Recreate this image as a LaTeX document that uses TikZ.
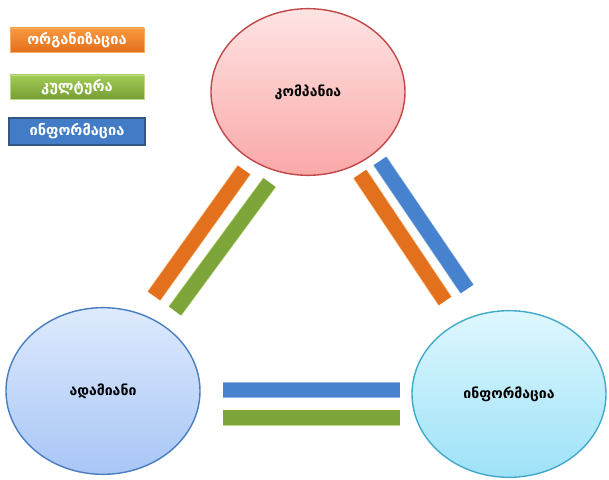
\documentclass[tikz,border=0pt]{standalone}
\usepackage{fontspec}
\newfontfamily\geofont[Script=Georgian]{DejaVu Sans}
\usetikzlibrary{shapes.geometric}

\definecolor{orangeA}{RGB}{250,152,62}
\definecolor{orangeB}{RGB}{226,112,28}
\definecolor{greenA}{RGB}{163,203,86}
\definecolor{greenB}{RGB}{118,158,52}
\definecolor{blueA}{RGB}{70,130,205}
\definecolor{blueB}{RGB}{52,100,170}
\definecolor{blueEdge}{RGB}{52,86,132}
\definecolor{pinkTop}{RGB}{255,228,228}
\definecolor{pinkBot}{RGB}{250,168,168}
\definecolor{pinkEdge}{RGB}{192,72,72}
\definecolor{lblueTop}{RGB}{222,234,253}
\definecolor{lblueBot}{RGB}{168,198,246}
\definecolor{lblueEdge}{RGB}{72,126,192}
\definecolor{cyanTop}{RGB}{222,247,254}
\definecolor{cyanBot}{RGB}{158,226,248}
\definecolor{cyanEdge}{RGB}{66,170,200}

\tikzset{
	circ/.style={ellipse, minimum width=5.82cm, minimum height=5cm, inner sep=0pt,
		line width=1.2pt, font=\geofont\bfseries\fontsize{12}{14}\selectfont},
	legbox/.style={font=\geofont\bfseries\fontsize{12.5}{14}\selectfont, text=white},
	obar/.style={line width=0.44cm, orangeB, preaction={draw, line width=0.48cm, orangeA!70!white}},
	gbar/.style={line width=0.44cm, greenB!85!greenA, preaction={draw, line width=0.48cm, greenA!70!white}},
	bbar/.style={line width=0.44cm, blueA, preaction={draw, line width=0.48cm, blueA!60!white}}
}

\begin{document}
\begin{tikzpicture}[x=0.03cm, y=-0.03cm]
	\useasboundingbox (0,0) rectangle (609,480);
	% legend
	\draw[orangeA!80!white, top color=orangeA, bottom color=orangeB] (10,28) rectangle (144,52) node[pos=.5, legbox] (legOrg) {ორგანიზაცია};
	\draw[greenA!70!white, top color=greenA, bottom color=greenB] (10,75) rectangle (144,99) node[pos=.5, legbox] (legCult) {კულტურა};
	\draw[blueEdge, line width=2.5pt, fill=blueA!80!blueB] (9,118) rectangle (145,145) node[pos=.5, legbox] (legInfo) {ინფორმაცია};

	% circles
	\node[circ, draw=pinkEdge, top color=pinkTop, bottom color=pinkBot] (kompania) at (308,92) {კომპანია};
	\node[circ, draw=lblueEdge, top color=lblueTop, bottom color=lblueBot] (adamiani) at (103,391) {ადამიანი};
	\node[circ, draw=cyanEdge, top color=cyanTop, bottom color=cyanBot] (informacia) at (509,394) {ინფორმაცია};

	% bar ends
	\coordinate (ko1) at (244,170);   \coordinate (ko2) at (154,296);
	\coordinate (kg1) at (269.5,182.5); \coordinate (kg2) at (175,311);
	\coordinate (io1) at (360,174);   \coordinate (io2) at (445,301);
	\coordinate (ib1) at (380,161);   \coordinate (ib2) at (467,289);
	\coordinate (hb1) at (223,390);   \coordinate (hb2) at (400,390);
	\coordinate (hg1) at (223,417.5); \coordinate (hg2) at (400,417.5);

	\draw[obar] (ko1) -- (ko2);
	\draw[gbar] (kg1) -- (kg2);
	\draw[obar] (io1) -- (io2);
	\draw[bbar] (ib1) -- (ib2);
	\draw[bbar] (hb1) -- (hb2);
	\draw[gbar] (hg1) -- (hg2);
\end{tikzpicture}
\end{document}
